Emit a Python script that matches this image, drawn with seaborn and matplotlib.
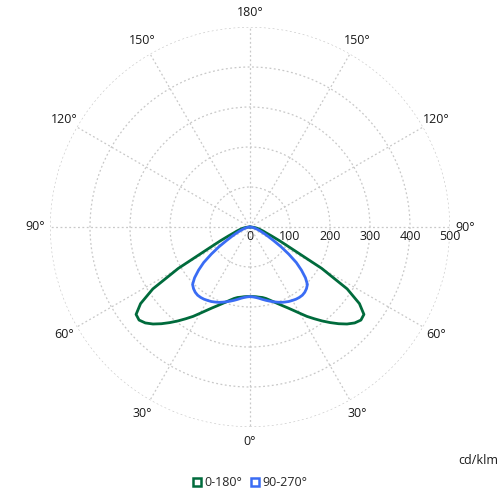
import numpy as np
import pandas as pd
import matplotlib.pyplot as plt
import matplotlib.transforms as mtransforms
from matplotlib.lines import Line2D
import seaborn as sns

# gamma angles (deg from nadir), read every 2.5 deg
gamma = [0, 2.5, 5, 7.5, 10, 12.5, 15, 17.5, 20, 22.5, 25, 27.5, 30, 32.5, 35, 37.5,
         40, 42.5, 45, 47.5, 50, 52.5, 55, 57.5, 60, 62.5, 65, 67.5, 70, 72.5, 75,
         77.5, 80, 82.5, 85, 87.5, 90]
# intensities in cd/klm
c0_180 = [174, 174, 175, 177, 179, 183, 189, 196, 204, 213, 223, 235, 249, 265, 280, 296,
          312, 328, 343, 355, 362, 359, 334, 288, 207, 118, 82, 58, 43, 35, 28,
          23, 18, 13, 8, 4, 0]
c90_270 = [174, 175, 177, 180, 184, 188, 192, 196, 200, 204, 207, 210, 212, 214, 215, 215,
           213, 209, 203, 188, 168, 146, 118, 92, 68, 52, 40, 31, 24, 19, 14,
           11, 8, 6, 4, 2, 0]

planes = ["0-180°", "90-270°"]
colors = {"0-180°": "#006b3c", "90-270°": "#3a6cf4"}
r_ticks = [0, 100, 200, 300, 400, 500]
angle_ticks = [0, 30, 60, 90, 120, 150, 180, 210, 240, 270, 300, 330]


def closed_curve(values):
    # right half then mirrored left half
    g = np.array(gamma, dtype=float)
    v = np.array(values, dtype=float)
    th = np.concatenate([-g[::-1], g[1:]])
    rr = np.concatenate([v[::-1], v[1:]])
    return np.deg2rad(th), rr


rows = []
for name, vals in zip(planes, [c0_180, c90_270]):
    th, rr = closed_curve(vals)
    for t, r in zip(th, rr):
        rows.append({"theta": t, "r": r, "plane": name})
df = pd.DataFrame(rows)

sns.set_theme(style="white")
plt.rcParams["font.family"] = ["Open Sans", "DejaVu Sans"]

fig = plt.figure(figsize=(5, 5), dpi=100)
ax = fig.add_axes([0.1, 0.146, 0.8, 0.8], projection="polar")
ax.set_theta_zero_location("S")
ax.set_theta_direction(1)

sns.lineplot(data=df, x="theta", y="r", hue="plane", palette=colors,
             sort=False, estimator=None, legend=False, linewidth=2, ax=ax)

ax.set_ylim(0, 500)
ax.set_xlabel("")
ax.set_ylabel("")
ax.set_thetagrids(angle_ticks, labels=[""] * len(angle_ticks))
ax.set_rgrids([100, 200, 300, 400, 500], labels=[""] * 5)
ax.grid(True, color="#c8c8c8", linestyle=(0, (1.5, 2)), linewidth=0.9)
ax.spines["polar"].set_visible(False)
ax.set_facecolor("white")

# angle labels around the circle
for a in angle_ticks:
    lab = min(a, 360 - a)
    ax.text(np.deg2rad(a), 537, f"{lab}°", ha="center", va="center",
            fontsize=9, color="#1a1a1a", clip_on=False)

# radial labels along the 90° spoke, just below the line
off = mtransforms.offset_copy(ax.transData, fig=fig, x=0, y=-7, units="points")
for r in r_ticks:
    ax.text(np.deg2rad(90), r, str(r), transform=off, ha="center", va="center",
            fontsize=9, color="#1a1a1a", clip_on=False)

fig.text(0.956, 0.08, "cd/klm", ha="center", va="center", fontsize=9, color="#1a1a1a")

handles = [Line2D([], [], marker="s", linestyle="none", markersize=5.5,
                  markerfacecolor="white", markeredgewidth=1.8,
                  markeredgecolor=colors[p], label=p) for p in planes]
fig.legend(handles=handles, loc="center", bbox_to_anchor=(0.5, 0.034), ncol=2,
           frameon=False, fontsize=9, handletextpad=0.2, columnspacing=0.6,
           handlelength=0.8)

fig.savefig("out.png", dpi=100, facecolor="white")
